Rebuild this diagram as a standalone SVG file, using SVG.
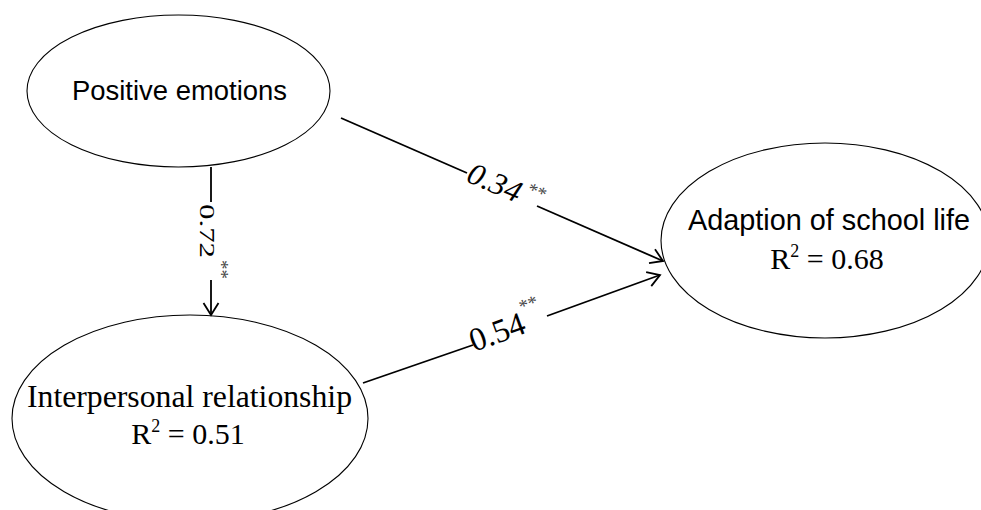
<svg xmlns="http://www.w3.org/2000/svg" width="981" height="510" viewBox="0 0 981 510">
<style>
.node ellipse{fill:#fff;stroke:#000;stroke-width:1.1}
.sans{font-family:"Liberation Sans",Arial,sans-serif;fill:#000}
.serif{font-family:"Liberation Serif","Times New Roman",serif;fill:#000}
.conn line{stroke:#000;stroke-width:1.8;fill:none}
.star{font-family:"Liberation Serif","Times New Roman",serif;fill:#444}
</style>
<defs>
<marker id="arr" markerUnits="userSpaceOnUse" markerWidth="20" markerHeight="20" viewBox="-14 -10 16 20" refX="0" refY="0" orient="auto">
<path d="M-12,-7.5 L0,0 L-12,7.5" fill="none" stroke="#000" stroke-width="1.8"/>
</marker>
</defs>
<rect width="981" height="510" fill="#fff"/>
<g id="node-positive" class="node">
<ellipse cx="178.5" cy="91" rx="151.5" ry="76"/>
<text class="sans" x="179.5" y="100" font-size="27" text-anchor="middle" textLength="215" lengthAdjust="spacingAndGlyphs">Positive emotions</text>
</g>
<g id="node-adaption" class="node">
<ellipse cx="825" cy="240.5" rx="164" ry="97.5"/>
<text class="sans" x="829" y="230" font-size="30" text-anchor="middle" textLength="282" lengthAdjust="spacingAndGlyphs">Adaption of school life</text>
<text class="serif" x="827" y="269" font-size="30" text-anchor="middle">R<tspan font-size="18" dy="-12">2</tspan><tspan dy="12"> = 0.68</tspan></text>
</g>
<g id="node-interpersonal" class="node">
<ellipse cx="190" cy="418.5" rx="178" ry="103.5"/>
<text class="serif" x="189.5" y="407" font-size="31" text-anchor="middle" textLength="325" lengthAdjust="spacingAndGlyphs">Interpersonal relationship</text>
<text class="serif" x="188" y="444" font-size="30" text-anchor="middle">R<tspan font-size="18" dy="-12">2</tspan><tspan dy="12"> = 0.51</tspan></text>
</g>
<g id="connectors" class="conn">
<line x1="211" y1="167" x2="211" y2="202"/>
<line x1="211" y1="280" x2="211" y2="315" marker-end="url(#arr)"/>
<line x1="341" y1="118" x2="467" y2="173"/>
<line x1="537" y1="206" x2="663" y2="261" marker-end="url(#arr)"/>
<line x1="363" y1="383" x2="473" y2="345"/>
<line x1="547" y1="316" x2="660" y2="275" marker-end="url(#arr)"/>
</g>
<g id="labels">
<g transform="translate(199.5,204) rotate(90)">
<text class="serif" x="0" y="0" font-size="22" textLength="54" lengthAdjust="spacingAndGlyphs">0.72</text>
<text class="star" x="56" y="-15" font-size="19">**</text>
</g>
<g transform="translate(465,181) rotate(23)">
<text class="serif" x="0" y="0" font-size="31" font-style="italic" textLength="56" lengthAdjust="spacingAndGlyphs">0.34</text>
<text class="star" x="60" y="-12" font-size="19" font-style="italic">**</text>
</g>
<g transform="translate(474,352) rotate(-20)">
<text class="serif" x="0" y="0" font-size="33" textLength="57" lengthAdjust="spacingAndGlyphs">0.54</text>
<text class="star" x="58" y="-20" font-size="19">**</text>
</g>
</g>
</svg>
